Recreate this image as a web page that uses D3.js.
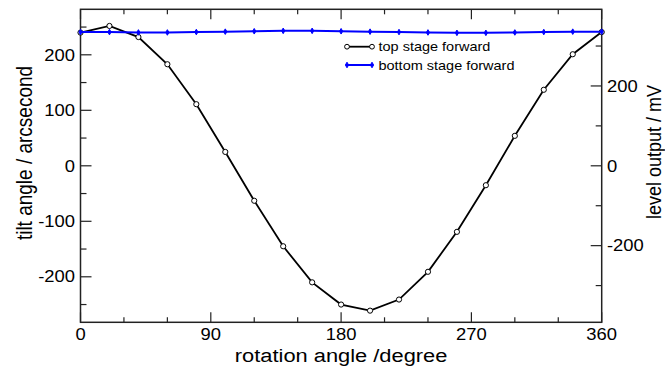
<!DOCTYPE html>
<html>
<head>
<meta charset="utf-8">
<script src="https://cdn.jsdelivr.net/npm/d3@7"></script>
<style>
  html, body { margin: 0; padding: 0; background: #fff; }
  svg { display: block; }
  text { font-family: "Liberation Sans", Arial, Helvetica, sans-serif; fill: #000; }
</style>
</head>
<body>
<svg id="chart" width="665" height="368"></svg>
<script>
// Rotation angle in degrees (sampled every 20°)
const angles = [0, 20, 40, 60, 80, 100, 120, 140, 160, 180, 200, 220, 240, 260, 280, 300, 320, 340, 360];
// Tilt angle of the top stage, arcseconds (left axis)
const topStage = [240, 252, 232, 183, 111, 25, -63, -145, -210, -250, -261, -241, -191, -119, -35, 54, 137, 201, 241];
// Level output of the bottom stage, mV (right axis)
const bottomStage = [335, 335, 334, 334, 335, 336, 337, 338, 338, 337, 336, 335, 334, 333, 333, 334, 335, 336, 336];

const xTicks = [0, 90, 180, 270, 360];
const yLeftTicks = [-200, -100, 0, 100, 200];
const yRightTicks = [-200, 0, 200];

const legendLabels = ["top stage forward", "bottom stage forward"];

const svg = d3.select("#chart");
const SX = 1.15;            // horizontal glyph stretch
const L = 80.5, R = 601.7, T = 9.3, B = 322.3;

const x = d3.scaleLinear().domain([0, 360]).range([L, R]);
const yL = d3.scaleLinear().domain([-282, 282]).range([B, T]);
const yR = d3.scaleLinear().domain([-392, 392]).range([B, T]);

const frameColor = "#222";

// tick marks (drawn inward)
function ticksX(yPos, dir) {
  const minor = d3.range(0, 361, 30);
  svg.append("g").selectAll("line").data(minor).join("line")
    .attr("x1", d => x(d)).attr("x2", d => x(d))
    .attr("y1", yPos).attr("y2", d => yPos + dir * (d % 90 === 0 ? 10 : 5))
    .attr("stroke", frameColor).attr("stroke-width", 1.2);
}
ticksX(B, -1);
ticksX(T, 1);

svg.append("g").selectAll("line").data(d3.range(-250, 251, 50)).join("line")
  .attr("x1", L).attr("x2", d => L + (d % 100 === 0 ? 11 : 6))
  .attr("y1", d => yL(d)).attr("y2", d => yL(d))
  .attr("stroke", frameColor).attr("stroke-width", 1.2);

svg.append("g").selectAll("line").data(d3.range(-300, 301, 100)).join("line")
  .attr("x1", R).attr("x2", d => R - (d % 200 === 0 ? 11 : 6))
  .attr("y1", d => yR(d)).attr("y2", d => yR(d))
  .attr("stroke", frameColor).attr("stroke-width", 1.2);

// frame
svg.append("rect").attr("x", L).attr("y", T).attr("width", R - L).attr("height", B - T)
  .attr("fill", "none").attr("stroke", frameColor).attr("stroke-width", 1.5);

function label(px, py, str, size, anchor, rot) {
  return svg.append("text")
    .attr("transform", `translate(${px},${py}) scale(${SX},1)` + (rot ? ` rotate(${rot})` : ""))
    .attr("text-anchor", anchor)
    .style("font-size", size + "px")
    .text(str);
}

// tick labels
xTicks.forEach(d => label(x(d), 340, d, 16, "middle"));
yLeftTicks.forEach(d => label(75, yL(d) + 5.7, d, 16, "end"));
yRightTicks.forEach(d => label(607, yR(d) + 5.7, d, 16, "start"));

// axis titles
label((L + R) / 2, 361.5, "rotation angle /degree", 19, "middle");
label(32, 153, "tilt angle / arcsecond", 19, "middle", -90);
label(661, 152, "level output / mV", 18, "middle", -90);

// series
const lineTop = d3.line().x((d, i) => x(angles[i])).y(d => yL(d));
const lineBottom = d3.line().x((d, i) => x(angles[i])).y(d => yR(d));
const diamond = d3.symbol().type(d3.symbolDiamond).size(9);

svg.append("path").datum(topStage).attr("d", lineTop)
  .attr("fill", "none").attr("stroke", "#000").attr("stroke-width", 1.8);
svg.append("g").selectAll("circle").data(topStage).join("circle")
  .attr("cx", (d, i) => x(angles[i])).attr("cy", d => yL(d))
  .attr("r", 2.6).attr("fill", "#fff").attr("stroke", "#000").attr("stroke-width", 1);

svg.append("path").datum(bottomStage).attr("d", lineBottom)
  .attr("fill", "none").attr("stroke", "#0000ff").attr("stroke-width", 2);
svg.append("g").selectAll("path").data(bottomStage).join("path")
  .attr("transform", (d, i) => `translate(${x(angles[i])},${yR(d)})`)
  .attr("d", diamond).attr("fill", "#0000ff").attr("stroke", "#0000ff").attr("stroke-width", 1);

// legend
const lg = svg.append("g");
const rows = [
  { y: 46.7, color: "#000", kind: "circle" },
  { y: 65, color: "#0000ff", kind: "diamond" }
];
rows.forEach((r, i) => {
  lg.append("line").attr("x1", 347).attr("x2", 372).attr("y1", r.y).attr("y2", r.y)
    .attr("stroke", r.color).attr("stroke-width", i === 0 ? 1.8 : 2);
  [347, 372].forEach(px => {
    if (r.kind === "circle") {
      lg.append("circle").attr("cx", px).attr("cy", r.y).attr("r", 2.4)
        .attr("fill", "#fff").attr("stroke", r.color).attr("stroke-width", 1);
    } else {
      lg.append("path").attr("transform", `translate(${px},${r.y})`).attr("d", diamond)
        .attr("fill", r.color).attr("stroke", r.color);
    }
  });
  label(378.5, r.y + 4.5, legendLabels[i], 12.6, "start");
});
</script>
</body>
</html>
